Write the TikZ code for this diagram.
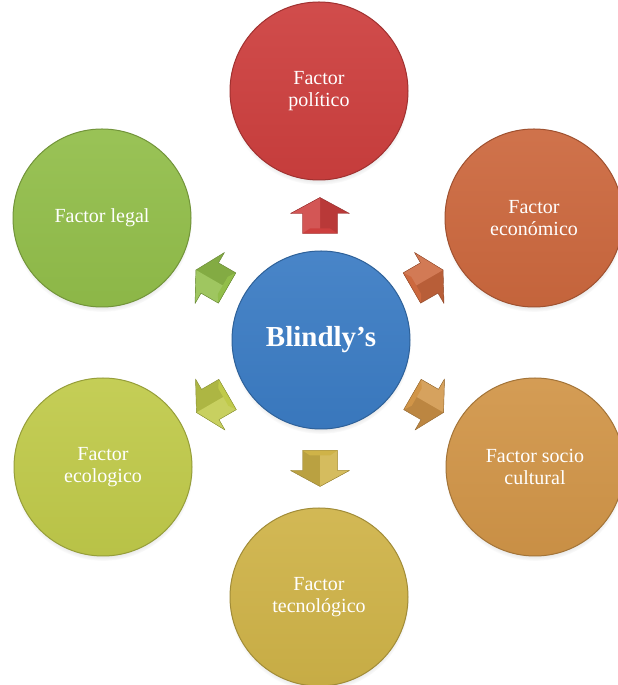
\documentclass[tikz,border=0pt]{standalone}
\usepackage{fontspec}
\setmainfont{Liberation Serif}
\usetikzlibrary{calc,shadows}
\definecolor{polc}{RGB}{205,63,62}
\definecolor{ecoc}{RGB}{204,104,62}
\definecolor{socc}{RGB}{209,149,72}
\definecolor{tecc}{RGB}{207,179,72}
\definecolor{eclc}{RGB}{192,202,74}
\definecolor{legc}{RGB}{146,190,74}
\definecolor{cenc}{RGB}{59,124,196}
\tikzset{
  ball/.style={circle, minimum size=178pt, inner sep=0pt, align=center, text=white,
    font=\fontsize{20}{22.5}\selectfont,
    circular drop shadow={shadow xshift=0pt, shadow yshift=-4pt, shadow scale=1.01, opacity=0.45}},
  ballc/.style={top color=#1!93!white, bottom color=#1!96!black, draw=#1!78!black, line width=1pt},
}
\newcommand\blockarr[3]{%
  \begin{scope}[shift={($(c.center)!0.5!(#1.center)$)},rotate=#3]
    \fill[#2!90!black] (18,0) -- (2,29.5) -- (2,17.5) -- (-18,17.5) -- (-18,-17.5) -- (2,-17.5) -- (2,-29.5) -- cycle;
    \fill[#2!88!white] (18,0) -- (2,29.5) -- (2,17.5) -- (-18,17.5) -- (-18,0) -- cycle;
    \fill[#2] (-18,17.5) -- (-18,-17.5) -- (-13,-10) -- (-13,10) -- cycle;
    \draw[#2!70!black, line width=0.4pt, line join=round] (18,0) -- (2,29.5) -- (2,17.5) -- (-18,17.5) -- (-18,-17.5) -- (2,-17.5) -- (2,-29.5) -- cycle;
  \end{scope}}
\begin{document}
\begin{tikzpicture}[x=1pt,y=1pt]
\useasboundingbox (0,0) rectangle (618,685);
\fill[white] (0,0) rectangle (618,685);
\node[ball, ballc=cenc, font=\fontsize{29}{32}\selectfont\bfseries] (c) at (321,345) {Blindly’s};
\node[ball, ballc=polc] (pol) at (319,594) {Factor\\político};
\node[ball, ballc=ecoc] (eco) at (534,467) {Factor\\económico};
\node[ball, ballc=socc] (soc) at (535,218) {Factor socio\\cultural};
\node[ball, ballc=tecc] (tec) at (319,88) {Factor\\tecnológico};
\node[ball, ballc=eclc] (ecl) at (103,218) {Factor\\ecologico};
\node[ball, ballc=legc] (leg) at (102,467) {Factor legal};
\blockarr{pol}{polc}{90}
\blockarr{eco}{ecoc}{30}
\blockarr{soc}{socc}{-30}
\blockarr{tec}{tecc}{-90}
\blockarr{ecl}{eclc}{-150}
\blockarr{leg}{legc}{150}
\end{tikzpicture}
\end{document}
